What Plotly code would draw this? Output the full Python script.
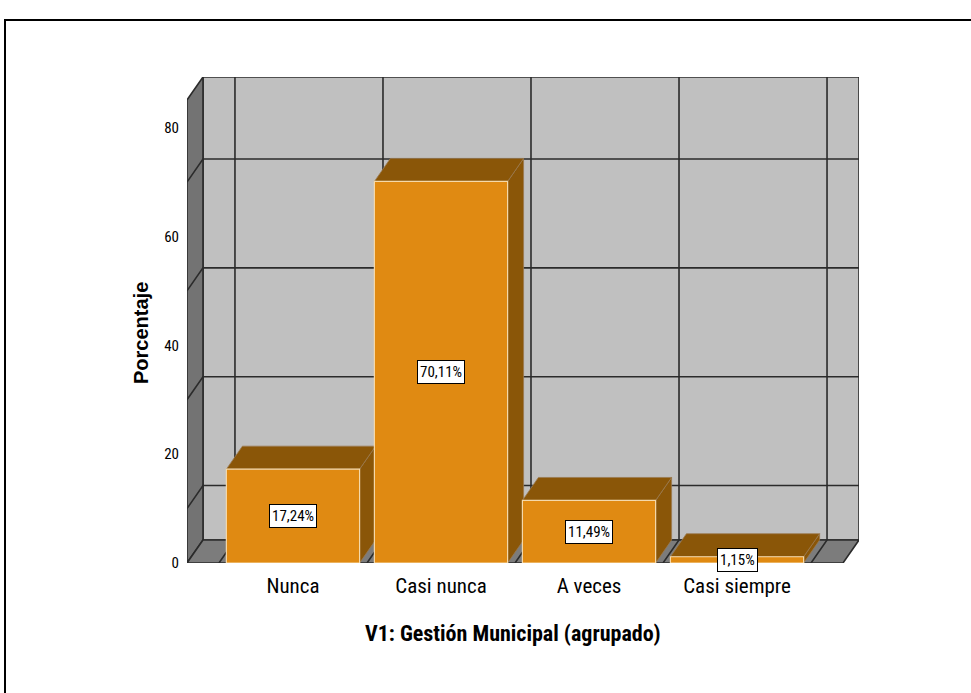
import plotly.graph_objects as go

# data
categories = ["Nunca", "Casi nunca", "A veces", "Casi siempre"]
percentages = [17.24, 70.11, 11.49, 1.15]
value_labels = ["17,24%", "70,11%", "11,49%", "1,15%"]
y_ticks = [0, 20, 40, 60, 80]
grid_levels = [10, 30, 50, 70]

# pseudo-3D box (in data units of the front plane)
X_MIN, X_MAX = -0.716, 3.824
Y_TOP = 89.3
DX, DY = 0.108, 4.23
BAR_W = 0.9

WALL = "#c0c0c0"
SIDE_WALL = "#737373"
FLOOR = "#7c7c7c"
GRID = "#2b2b2b"
BAR_FRONT = "#e08a12"
BAR_DARK = "#8a5608"
NARROW = "Roboto Condensed, Liberation Sans Narrow, Arial Narrow, sans-serif"
ARIAL = "Liberation Sans, Arial, sans-serif"


def poly(xs, ys, fill, line_color, width=1.2):
    return go.Scatter(
        x=list(xs) + [xs[0]],
        y=list(ys) + [ys[0]],
        mode="lines",
        fill="toself",
        fillcolor=fill,
        line=dict(color=line_color, width=width),
        hoverinfo="skip",
        showlegend=False,
    )


fig = go.Figure()

# back wall, left wall, floor
fig.add_trace(poly([X_MIN + DX, X_MAX, X_MAX, X_MIN + DX], [DY, DY, Y_TOP, Y_TOP], WALL, GRID, 1.6))
fig.add_trace(poly([X_MIN, X_MIN + DX, X_MIN + DX, X_MIN], [0, DY, Y_TOP, Y_TOP - DY], SIDE_WALL, GRID, 1.6))
fig.add_trace(poly([X_MIN, X_MIN + DX, X_MAX, X_MAX - DX], [0, DY, DY, 0], FLOOR, GRID, 1.6))

# horizontal grid on back wall + diagonals on the left wall
gx, gy = [], []
for g in grid_levels:
    gx += [X_MIN, X_MIN + DX, X_MAX, None]
    gy += [g, g + DY, g + DY, None]
# vertical grid at category boundaries + diagonals on the floor
for b in [i - 0.5 for i in range(len(categories) + 1)]:
    gx += [b, b + DX, b + DX, None]
    gy += [0, DY, Y_TOP, None]
fig.add_trace(go.Scatter(x=gx, y=gy, mode="lines", line=dict(color=GRID, width=1.6),
                         hoverinfo="skip", showlegend=False))

# bars, left to right so each front covers the previous side
for i, v in enumerate(percentages):
    x0, x1 = i - BAR_W / 2, i + BAR_W / 2
    fig.add_trace(poly([x1, x1 + DX, x1 + DX, x1], [0, DY, v + DY, v], BAR_DARK, "#9a7a50", 0.8))
    fig.add_trace(poly([x0, x1, x1 + DX, x0 + DX], [v, v, v + DY, v + DY], BAR_DARK, "#9a7a50", 0.8))
    fig.add_trace(poly([x0, x1, x1, x0], [0, 0, v, v], BAR_FRONT, "#f5d9aa", 1.2))
    fig.add_annotation(
        x=i, y=v / 2, text=value_labels[i], showarrow=False,
        font=dict(family=NARROW, size=15, color="black"),
        bgcolor="white", bordercolor="black", borderwidth=1, borderpad=2,
    )

# frame around the whole chart
fig.add_shape(type="rect", xref="paper", yref="paper",
              x0=(5 - 187) / 672, x1=(980 - 187) / 672,
              y0=(563 - 700) / 486, y1=(563 - 20) / 486,
              line=dict(color="black", width=2), fillcolor="rgba(0,0,0,0)", layer="below")

fig.add_annotation(
    text="<b>Porcentaje</b>", textangle=-90, showarrow=False,
    xref="paper", yref="paper", x=(141 - 187) / 672, y=(563 - 333) / 486,
    xanchor="center", yanchor="middle",
    font=dict(family=ARIAL, size=20, color="black"),
)
fig.add_annotation(
    text="<b>V1: Gestión Municipal (agrupado)</b>", showarrow=False,
    xref="paper", yref="paper", x=(513 - 187) / 672, y=(563 - 633) / 486,
    xanchor="center", yanchor="middle",
    font=dict(family=NARROW, size=22, color="black"),
)

fig.update_xaxes(
    range=[X_MIN, X_MAX], tickvals=list(range(len(categories))), ticktext=categories,
    showgrid=False, zeroline=False, showline=False,
    ticks="outside", ticklen=4, tickcolor="rgba(0,0,0,0)",
    tickfont=dict(family=NARROW, size=21, color="black"),
)
fig.update_yaxes(
    range=[0, Y_TOP], tickvals=y_ticks,
    showgrid=False, zeroline=False, showline=False,
    ticks="outside", ticklen=4, tickcolor="rgba(0,0,0,0)",
    tickfont=dict(family=NARROW, size=15, color="black"),
)
fig.update_layout(
    width=971, height=693,
    margin=dict(l=187, r=112, t=77, b=130),
    plot_bgcolor="white", paper_bgcolor="white",
    showlegend=False,
)

fig.write_html("out.html", post_script="document.body.style.margin='0';",
               config={"displayModeBar": False})
